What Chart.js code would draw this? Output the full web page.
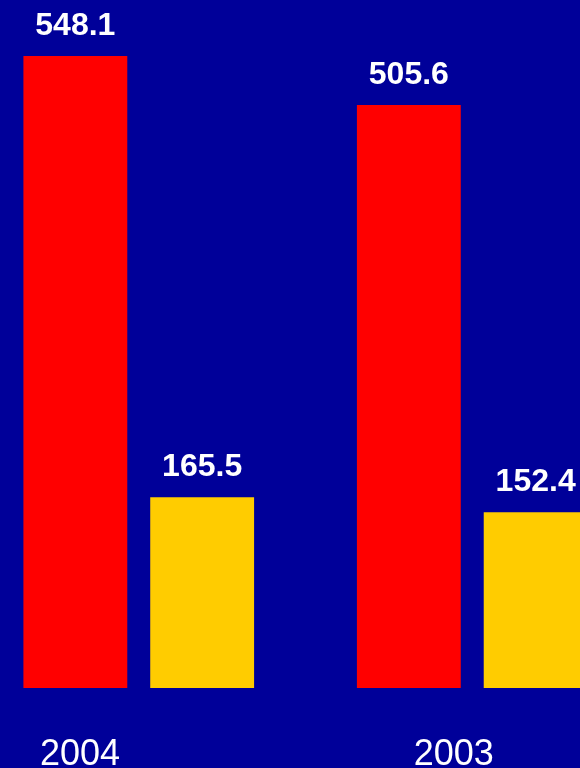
<!DOCTYPE html>
<html>
<head>
<meta charset="utf-8">
<script src="https://cdn.jsdelivr.net/npm/chart.js@4/dist/chart.umd.min.js"></script>
<style>
  html, body { margin: 0; padding: 0; width: 580px; height: 768px; overflow: hidden; background: #000099; }
  #wrap { position: absolute; left: -28px; top: 0; width: 667px; height: 768px; }
</style>
</head>
<body>
<div id="wrap"><canvas id="miGrafico"></canvas></div>
<script>
// Datos
const anios = ['2004', '2003'];
const serieRoja = [548.1, 505.6];
const serieAmarilla = [165.5, 152.4];

// Estilo
const fuente = '"Liberation Sans", Arial, sans-serif';
const desplazaEtiqueta = [-58.75, -18.5];

// Valores encima de las barras
const valoresPlugin = {
    id: 'valores',
    afterDatasetsDraw(chart) {
        const ctx = chart.ctx;
        ctx.save();
        ctx.fillStyle = '#ffffff';
        ctx.font = 'bold 32px ' + fuente;
        ctx.textAlign = 'center';
        ctx.textBaseline = 'alphabetic';
        chart.data.datasets.forEach((ds, i) => {
            chart.getDatasetMeta(i).data.forEach((bar, j) => {
                ctx.fillText(ds.data[j].toFixed(1), bar.x, bar.y - 21);
            });
        });
        ctx.restore();
    }
};

// Etiquetas de los anios
const aniosPlugin = {
    id: 'anios',
    afterDraw(chart) {
        const ctx = chart.ctx;
        const x = chart.scales.x;
        ctx.save();
        ctx.fillStyle = '#ffffff';
        ctx.font = '36px ' + fuente;
        ctx.textAlign = 'center';
        ctx.textBaseline = 'alphabetic';
        chart.data.labels.forEach((lbl, i) => {
            ctx.fillText(lbl, x.getPixelForValue(i) + desplazaEtiqueta[i], 765);
        });
        ctx.restore();
    }
};

new Chart(document.getElementById('miGrafico'), {
    type: 'bar',
    data: {
        labels: anios,
        datasets: [{
                data: serieRoja,
                backgroundColor: '#ff0000',
                borderWidth: 0,
                barPercentage: 0.819,
                categoryPercentage: 0.7605,
            }, {
                data: serieAmarilla,
                backgroundColor: '#ffcc00',
                borderWidth: 0,
                barPercentage: 0.819,
                categoryPercentage: 0.7605,
            },
        ],
    },
    options: {
        responsive: true,
        maintainAspectRatio: false,
        devicePixelRatio: 1,
        animation: false,
        layout: { padding: { top: 0, bottom: 80, left: 0, right: 0 } },
        scales: {
            x: { display: false },
            y: { display: false, min: 0, max: 596.7 }
        },
        plugins: {
            legend: { display: false },
            tooltip: { enabled: false }
        }
    },
    plugins: [valoresPlugin, aniosPlugin]
});
</script>
</body>
</html>
